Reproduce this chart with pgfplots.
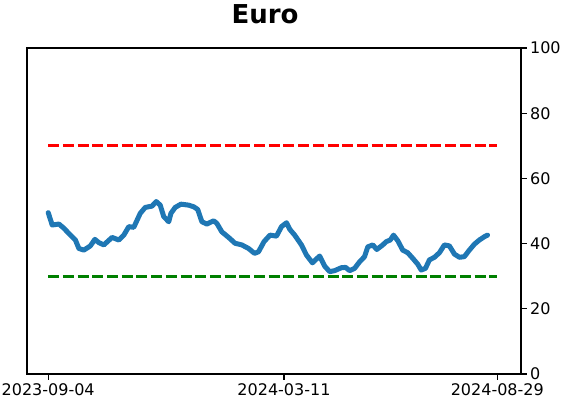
\documentclass[border=0pt]{standalone}
\usepackage{pgfplots}
\pgfplotsset{compat=1.18}
\usepackage{fontspec}
\setmainfont{DejaVu Sans}
\definecolor{mplblue}{HTML}{1F77B4}
\definecolor{mplred}{HTML}{FF0000}
\definecolor{mplgreen}{HTML}{008000}

\begin{document}
\begin{tikzpicture}
\begin{axis}[
  scale only axis,
  width=494pt, height=326pt,
  xmin=-17, xmax=379, ymin=0, ymax=100,
  xtick={0,189,360},
  xticklabels={2023-09-04,2024-03-11,2024-08-29},
  ytick={0,20,40,60,80,100},
  xtick pos=bottom, ytick pos=right,
  yticklabel pos=right,
  tick align=outside,
  major tick length=5.6pt,
  every tick/.style={black, line width=1.3pt},
  axis line style={line width=1.3pt},
  tick label style={font=\fontsize{16}{16}\selectfont},
  /pgf/number format/assume math mode=true,
  clip=false,
]
% thresholds
\addplot[mplred, line width=3pt, dash pattern=on 11pt off 3.7pt] coordinates {(0,70) (360,70)};
\addplot[mplgreen, line width=3pt, dash pattern=on 11pt off 3.7pt] coordinates {(0,30) (360,30)};
% series
\addplot[mplblue, line width=5pt, line join=round, line cap=round] table {
x y
0 49.5
3.2 45.7
8.6 46.0
12.6 44.7
17.8 42.6
21.8 41.1
24.6 38.5
28.6 38.0
33.8 39.3
37.4 41.3
40.6 40.3
44.6 39.6
51.2 41.9
56.6 41.1
60.6 42.6
64.6 45.2
68.6 45.0
73.8 49.3
77.8 51.1
83.2 51.5
86.6 52.9
89.8 51.8
92.6 48.3
96.6 46.7
98.4 49.3
101.8 51.1
106.4 52.1
112.6 51.8
116.6 51.3
119.8 50.5
123.2 46.7
127.2 46.0
132.6 47.0
135.2 46.2
139.2 43.6
144.6 41.9
149.8 40.1
155.2 39.6
160.6 38.5
165.4 37.0
168.6 37.5
173.0 40.6
177.8 42.6
183.0 42.3
187.0 45.2
191.0 46.4
193.6 44.4
197.6 42.6
203.0 39.6
207.0 36.5
211.8 34.1
217.6 36.2
221.6 33.1
225.6 31.4
229.6 31.7
235.0 32.6
238.4 32.7
241.6 31.7
245.6 32.4
249.6 34.4
253.6 36.0
256.2 39.0
260.2 39.6
263.4 38.2
268.2 39.6
271.0 40.6
274.2 41.1
276.8 42.6
280.2 40.9
284.2 38.0
288.2 37.2
292.2 35.5
296.2 33.7
299.0 31.9
302.4 32.4
305.6 35.0
309.6 35.8
313.6 37.2
317.6 39.6
321.6 39.3
325.6 36.8
329.6 35.8
333.6 36.0
337.6 38.0
341.6 39.8
345.6 41.1
349.6 42.1
352.2 42.6
};
\node[font=\bfseries\fontsize{26}{26}\selectfont, anchor=base, inner sep=0pt]
  at (rel axis cs:0.5,1) [xshift=-9pt, yshift=24.7pt] {Euro};
\end{axis}
\pgfresetboundingbox
\path (-27pt,-28pt) rectangle (535pt,374pt);
\end{tikzpicture}
\end{document}
